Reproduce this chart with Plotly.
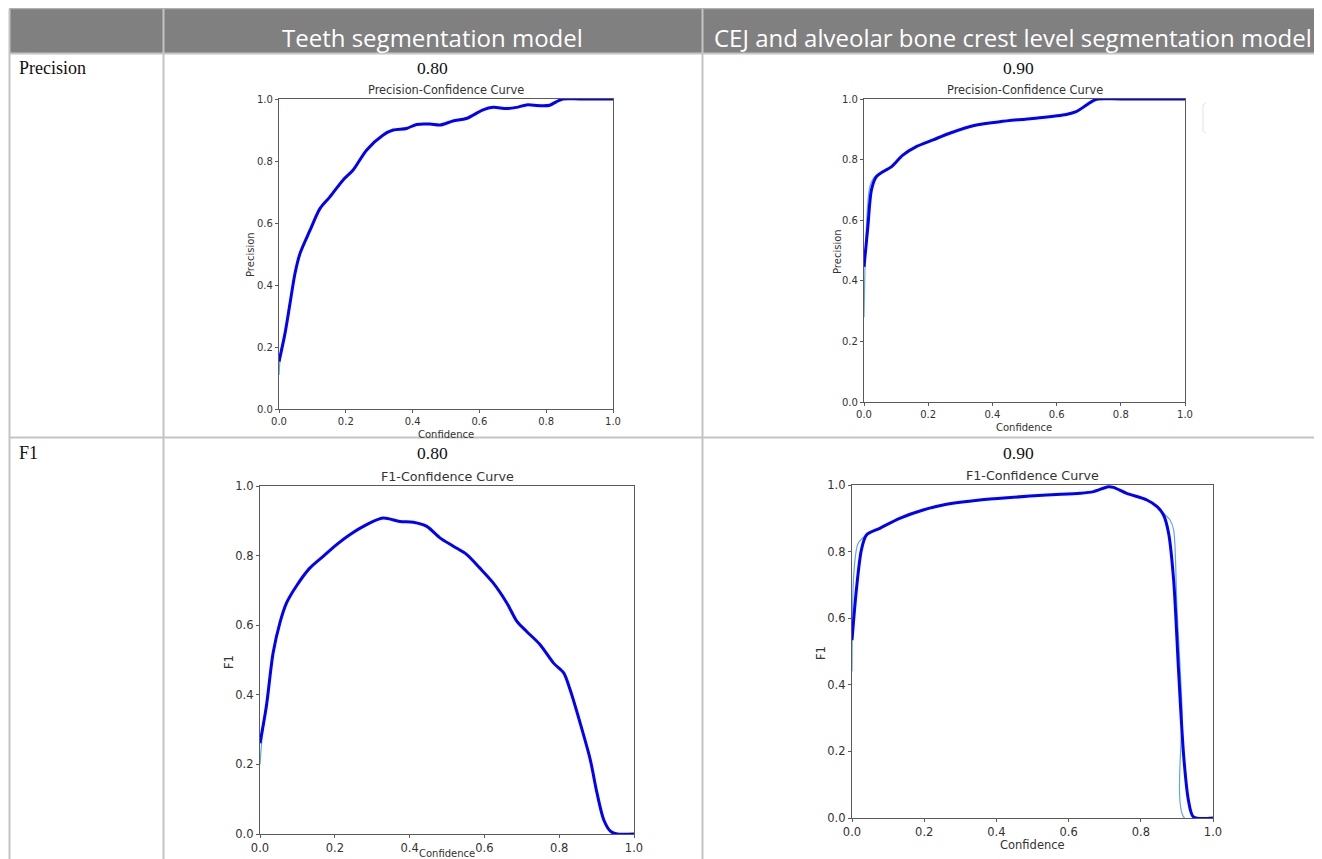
import plotly.graph_objects as go

W, H = 1322, 859
OFF = 8  # the page body adds an 8px margin; compensate so page pixels match

# ---------------- data ----------------
# Teeth segmentation model - Precision-Confidence
tp_conf = [0.0, 0.018, 0.033, 0.048, 0.063, 0.093, 0.123, 0.153, 0.192, 0.222, 0.262, 0.312,
           0.342, 0.382, 0.412, 0.452, 0.482, 0.521, 0.561, 0.611, 0.641, 0.681, 0.711, 0.741,
           0.791, 0.811, 0.830, 0.850, 0.9, 1.0]
tp_prec = [0.153, 0.244, 0.341, 0.438, 0.502, 0.577, 0.647, 0.685, 0.739, 0.771, 0.835, 0.884,
           0.900, 0.905, 0.918, 0.919, 0.916, 0.929, 0.937, 0.965, 0.973, 0.969, 0.973, 0.981,
           0.978, 0.980, 0.991, 1.0, 1.0, 1.0]
tp_thin_conf = [0.0, 0.006, 0.018] + tp_conf[2:]
tp_thin_prec = [0.11, 0.19, 0.244] + tp_prec[2:]

# CEJ model - Precision-Confidence
cp_conf = [0.0, 0.012, 0.023, 0.038, 0.059, 0.085, 0.121, 0.163, 0.215, 0.267, 0.350, 0.423,
           0.526, 0.630, 0.661, 0.693, 0.713, 0.729, 0.8, 1.0]
cp_prec = [0.446, 0.578, 0.699, 0.743, 0.760, 0.776, 0.815, 0.843, 0.865, 0.887, 0.914, 0.925,
           0.936, 0.949, 0.958, 0.980, 0.994, 1.0, 1.0, 1.0]
cp_thin_conf = [0.0, 0.007, 0.018, 0.033] + cp_conf[4:]
cp_thin_prec = [0.28, 0.567, 0.71, 0.743] + cp_prec[4:]

# Teeth segmentation model - F1-Confidence
tf_conf = [0.0, 0.017, 0.035, 0.053, 0.071, 0.097, 0.133, 0.169, 0.204, 0.240, 0.285, 0.329,
           0.374, 0.410, 0.446, 0.481, 0.517, 0.553, 0.588, 0.624, 0.660, 0.687, 0.713, 0.749,
           0.785, 0.812, 0.829, 0.856, 0.883, 0.901, 0.919, 0.937, 0.955, 1.0]
tf_f1 = [0.261, 0.367, 0.520, 0.606, 0.664, 0.712, 0.764, 0.798, 0.831, 0.860, 0.889, 0.908,
         0.898, 0.896, 0.884, 0.851, 0.827, 0.803, 0.764, 0.721, 0.664, 0.611, 0.582, 0.544,
         0.491, 0.463, 0.415, 0.319, 0.214, 0.118, 0.041, 0.008, 0.0, 0.0]
tf_thin_conf = [0.0, 0.006] + tf_conf[1:]
tf_thin_f1 = [0.2, 0.28] + tf_f1[1:]

# CEJ model - F1-Confidence
cf_conf = [0.0, 0.012, 0.026, 0.040, 0.077, 0.132, 0.197, 0.262, 0.354, 0.447, 0.539, 0.632,
           0.669, 0.710, 0.724, 0.761, 0.817, 0.845, 0.863, 0.877, 0.891, 0.905, 0.919, 0.932,
           0.946, 1.0]
cf_f1 = [0.534, 0.684, 0.805, 0.850, 0.870, 0.900, 0.925, 0.942, 0.955, 0.963, 0.970, 0.975,
         0.980, 0.995, 0.993, 0.975, 0.955, 0.935, 0.910, 0.855, 0.714, 0.434, 0.183, 0.053,
         0.003, 0.0]
cf_thin_conf = [0.0, 0.005, 0.017, 0.040, 0.077, 0.132, 0.197, 0.262, 0.354, 0.447, 0.539, 0.632,
                0.669, 0.710, 0.724, 0.761, 0.817, 0.845, 0.863, 0.881, 0.891, 0.900, 0.914,
                0.921, 1.0]
cf_thin_f1 = [0.44, 0.734, 0.825, 0.850, 0.870, 0.900, 0.925, 0.942, 0.955, 0.963, 0.970, 0.975,
              0.980, 0.995, 0.993, 0.975, 0.955, 0.935, 0.915, 0.895, 0.865, 0.635, 0.334,
              0.0, 0.0]

col_headers = ["Teeth segmentation model", "CEJ and alveolar bone crest level segmentation model"]
row_labels = ["Precision", "F1"]
scores = [["0.80", "0.90"], ["0.80", "0.90"]]
plot_titles = ["Precision-Confidence Curve", "F1-Confidence Curve"]
y_titles = ["Precision", "F1"]
x_title = "Confidence"


# ---------------- helpers ----------------
def px_x(x):
    return (x - OFF) / W


def px_y(y):
    return 1 - (y - OFF) / H


fig = go.Figure()

# panels: (x0, x1, y_top, y_bottom) pixel boxes
boxes = [
    (279, 613, 99, 409),
    (864, 1185, 99, 402),
    (260, 634, 486, 834),
    (852, 1213, 485, 818),
]
series = [
    (tp_thin_conf, tp_thin_prec, tp_conf, tp_prec),
    (cp_thin_conf, cp_thin_prec, cp_conf, cp_prec),
    (tf_thin_conf, tf_thin_f1, tf_conf, tf_f1),
    (cf_thin_conf, cf_thin_f1, cf_conf, cf_f1),
]
tick_sizes = [10, 10, 11.5, 11.5]
title_sizes = [11.4, 11.4, 12.7, 12.7]
title_y = [90, 90, 476, 475]
# axis title centres (pixel): (ytitle_x, ytitle_y, xtitle_x, xtitle_y, xtitle_anchor, xtitle_size)
axis_title_pos = [
    (250, 255, 446, 434, "middle", 10),
    (837, 252, 1024, 427, "middle", 10),
    (229, 662, 447, 860, "bottom", 10),
    (821, 653, 1032, 845, "middle", 11.5),
]

axis_color = "#5a5a5a"
text_color = "#333333"
font_mpl = "DejaVu Sans"

for i, ((x0, x1, yt, yb), (tx, ty, bx, by)) in enumerate(zip(boxes, series)):
    n = i + 1
    xa = "x" if n == 1 else f"x{n}"
    ya = "y" if n == 1 else f"y{n}"
    fig.add_trace(go.Scatter(x=tx, y=ty, xaxis=xa, yaxis=ya, mode="lines",
                             line=dict(color="#62a8dc", width=1.2, shape="spline", smoothing=0.8),
                             showlegend=False, hoverinfo="skip"))
    fig.add_trace(go.Scatter(x=bx, y=by, xaxis=xa, yaxis=ya, mode="lines",
                             line=dict(color="#0000ff", width=3, shape="spline", smoothing=0.8),
                             showlegend=False))
    row = i // 2
    common = dict(range=[0, 1], showgrid=False, zeroline=False, showline=True, mirror=True,
                  linecolor=axis_color, linewidth=1.2, ticks="outside", ticklen=3,
                  tickcolor=axis_color, tickwidth=1, tickvals=[0, 0.2, 0.4, 0.6, 0.8, 1.0],
                  tickformat=".1f", automargin=False,
                  tickfont=dict(family=font_mpl, size=tick_sizes[i], color=text_color))
    xkey = "xaxis" if n == 1 else f"xaxis{n}"
    ykey = "yaxis" if n == 1 else f"yaxis{n}"
    fig.layout[xkey] = dict(common, domain=[px_x(x0), px_x(x1)], anchor=ya)
    fig.layout[ykey] = dict(common, domain=[px_y(yb), px_y(yt)], anchor=xa)

    # plot title
    fig.add_annotation(x=(px_x(x0) + px_x(x1)) / 2, y=px_y(title_y[i]), xref="paper", yref="paper",
                       text=plot_titles[row], showarrow=False, xanchor="center", yanchor="middle",
                       font=dict(family=font_mpl, size=title_sizes[i], color=text_color))
    # axis titles
    yx, yy, xx, xy, xanc, xs = axis_title_pos[i]
    fig.add_annotation(x=px_x(yx), y=px_y(yy), xref="paper", yref="paper", text=y_titles[row],
                       textangle=-90, showarrow=False, xanchor="center", yanchor="middle",
                       font=dict(family=font_mpl, size=tick_sizes[i], color=text_color))
    fig.add_annotation(x=px_x(xx), y=px_y(xy), xref="paper", yref="paper", text=x_title,
                       showarrow=False, xanchor="center", yanchor=xanc, borderpad=0,
                       font=dict(family=font_mpl, size=xs, color=text_color))

# ---------------- table decoration ----------------
border = "#c4c4c4"
shapes = []
# header background
shapes.append(dict(type="rect", xref="paper", yref="paper", x0=px_x(9), x1=1.0, y0=px_y(53), y1=px_y(9),
                   fillcolor="#808080", line=dict(width=0), layer="below"))
# outer top border
shapes.append(dict(type="line", xref="paper", yref="paper", x0=px_x(9), x1=1.0, y0=px_y(8.5), y1=px_y(8.5),
                   line=dict(color="#b0b0b0", width=1.5)))
# header bottom / row separators
for yy in [53.5, 437.5]:
    shapes.append(dict(type="line", xref="paper", yref="paper", x0=px_x(9), x1=1.0, y0=px_y(yy), y1=px_y(yy),
                       line=dict(color=border, width=2)))
# verticals
for xx in [9.5, 163.5, 702.5]:
    shapes.append(dict(type="line", xref="paper", yref="paper", x0=px_x(xx), x1=px_x(xx), y0=0, y1=px_y(9),
                       line=dict(color=border, width=2)))
# faint legend remnant in top-right chart
shapes.append(dict(type="path", xref="paper", yref="paper",
                   path=f"M {px_x(1206)},{px_y(103)} L {px_x(1203)},{px_y(105)} L {px_x(1203)},{px_y(131)} L {px_x(1206)},{px_y(133)}",
                   line=dict(color="#e2e2e2", width=1)))
fig.update_layout(shapes=shapes)

# header texts
header_font = dict(family="Open Sans", size=24, color="white")
fig.add_annotation(x=px_x(433), y=px_y(37), xref="paper", yref="paper", text=col_headers[0],
                   showarrow=False, xanchor="center", yanchor="middle", font=header_font)
fig.add_annotation(x=px_x(712), y=px_y(37), xref="paper", yref="paper", text=col_headers[1],
                   showarrow=False, xanchor="left", yanchor="middle", font=header_font)

serif = dict(family="Liberation Serif", size=18, color="#111111")
row_y = [68, 453]
for r in range(2):
    fig.add_annotation(x=px_x(17), y=px_y(row_y[r]), xref="paper", yref="paper", text=row_labels[r],
                       showarrow=False, xanchor="left", yanchor="middle", font=serif)
    for c, cx in enumerate([433, 1018]):
        fig.add_annotation(x=px_x(cx), y=px_y(row_y[r]), xref="paper", yref="paper", text=scores[r][c],
                           showarrow=False, xanchor="center", yanchor="middle",
                           font=dict(family="Liberation Serif", size=17.5, color="#111111"))

fig.update_layout(width=W, height=H, margin=dict(l=0, r=0, t=0, b=0),
                  paper_bgcolor="white", plot_bgcolor="white", showlegend=False)

fig.write_html("out.html")
